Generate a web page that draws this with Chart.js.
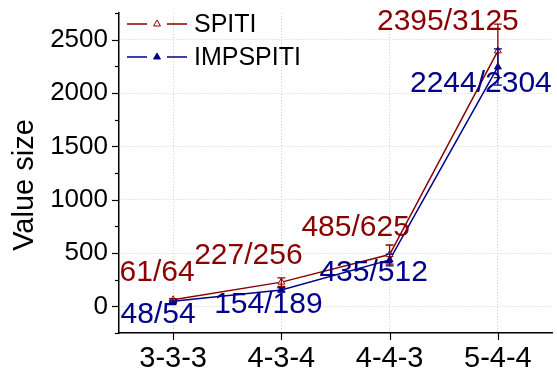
<!DOCTYPE html>
<html>
<head>
<meta charset="utf-8">
<script src="https://cdn.jsdelivr.net/npm/chart.js@4.4.0/dist/chart.umd.min.js"></script>
<style>
  html, body { margin: 0; padding: 0; background: #fff; }
</style>
</head>
<body>
<canvas id="chart" width="557" height="376"></canvas>
<script>
// ---- data ----
const categories = ['3-3-3', '4-3-4', '4-4-3', '5-4-4'];

const spitiValues = [61, 227, 485, 2395];
const spitiErrors = [12, 40, 90, 250];
const spitiLabels = ['61/64', '227/256', '485/625', '2395/3125'];

const impValues = [48, 154, 435, 2244];
const impErrors = [10, 20, 55, 170];
const impLabels = ['48/54', '154/189', '435/512', '2244/2304'];

// label placement relative to each point (px)
const spitiLabelOffsets = [[-16, -27], [-33, -26], [-34, -27], [-50, -29]];
const impLabelOffsets = [[-15, 14], [-13, 15], [-16, 13], [-17, 17]];

const RED = '#8b0000';
const BLUE = '#00008b';
const FONT = "'Liberation Sans', Arial, sans-serif";

Chart.defaults.font.family = FONT;
Chart.defaults.color = '#000';

// tick marks (major + minor) and the y title
const axisExtras = {
    id: 'axisExtras',
    afterDraw(chart) {
        const ctx = chart.ctx;
        const area = chart.chartArea;
        const y = chart.scales.y;
        const x = chart.scales.x;
        ctx.save();
        ctx.strokeStyle = '#000';
        ctx.lineWidth = 1.2;
        y.ticks.forEach(t => {
            const py = Math.round(y.getPixelForValue(t.value)) + 0.5;
            const len = t.value % 500 === 0 ? 7 : 4;
            ctx.beginPath();
            ctx.moveTo(area.left - len, py);
            ctx.lineTo(area.left, py);
            ctx.stroke();
        });
        x.ticks.forEach((t, i) => {
            const px = Math.round(x.getPixelForTick(i)) + 0.5;
            ctx.beginPath();
            ctx.moveTo(px, area.bottom);
            ctx.lineTo(px, area.bottom + 7);
            ctx.stroke();
        });
        // rotated axis title
        ctx.translate(25, 185);
        ctx.rotate(-Math.PI / 2);
        ctx.font = '29px ' + FONT;
        ctx.fillStyle = '#000';
        ctx.textAlign = 'center';
        ctx.textBaseline = 'middle';
        ctx.fillText('Value size', 0, 0);
        ctx.restore();
    }
};

// vertical error bars with caps
const errorBars = {
    id: 'errorBars',
    afterDatasetsDraw(chart) {
        const ctx = chart.ctx;
        const x = chart.scales.x;
        const y = chart.scales.y;
        const sets = [[spitiValues, spitiErrors, RED], [impValues, impErrors, BLUE]];
        ctx.save();
        ctx.lineWidth = 1.3;
        sets.forEach(([vals, errs, col]) => {
            ctx.strokeStyle = col;
            vals.forEach((v, i) => {
                const px = x.getPixelForValue(i);
                const top = y.getPixelForValue(v + errs[i]);
                const bot = y.getPixelForValue(v - errs[i]);
                ctx.beginPath();
                ctx.moveTo(px, top); ctx.lineTo(px, bot);
                ctx.moveTo(px - 4, top); ctx.lineTo(px + 4, top);
                ctx.moveTo(px - 4, bot); ctx.lineTo(px + 4, bot);
                ctx.stroke();
            });
        });
        ctx.restore();
    }
};

// "a/b" value labels next to each point
const valueLabels = {
    id: 'valueLabels',
    afterDatasetsDraw(chart) {
        const ctx = chart.ctx;
        const x = chart.scales.x;
        const y = chart.scales.y;
        const sets = [[spitiValues, spitiLabels, spitiLabelOffsets, RED], [impValues, impLabels, impLabelOffsets, BLUE]];
        ctx.save();
        ctx.font = '30px ' + FONT;
        ctx.textAlign = 'center';
        ctx.textBaseline = 'middle';
        sets.forEach(([vals, labels, offs, col]) => {
            ctx.fillStyle = col;
            vals.forEach((v, i) => {
                const px = x.getPixelForValue(i) + offs[i][0];
                const py = y.getPixelForValue(v) + offs[i][1];
                ctx.fillText(labels[i], px, py);
            });
        });
        ctx.restore();
    }
};

// legend inside the plot: line - marker - line  text
const innerLegend = {
    id: 'innerLegend',
    afterDraw(chart) {
        const ctx = chart.ctx;
        const area = chart.chartArea;
        ctx.save();
        ctx.font = '25px ' + FONT;
        ctx.textBaseline = 'middle';
        chart.data.datasets.forEach((ds, i) => {
            const yy = area.top + 11 + i * 33;
            const x0 = area.left + 8;
            ctx.strokeStyle = ds.borderColor;
            ctx.lineWidth = 1.5;
            ctx.beginPath();
            ctx.moveTo(x0, yy); ctx.lineTo(x0 + 20, yy);
            ctx.moveTo(x0 + 40, yy); ctx.lineTo(x0 + 60, yy);
            ctx.stroke();
            ctx.fillStyle = ds.pointBackgroundColor;
            ctx.lineWidth = 1;
            Chart.helpers.drawPoint(ctx, { pointStyle: 'triangle', radius: 4, borderWidth: 1, rotation: 0 }, x0 + 30, yy);
            ctx.fillStyle = '#000';
            ctx.fillText(ds.label, x0 + 67, yy + 1);
        });
        ctx.restore();
    }
};

new Chart(document.getElementById('chart'), {
    type: 'line',
    data: {
        labels: categories,
        datasets: [{
            label: 'SPITI',
            data: spitiValues,
            borderColor: RED,
            borderWidth: 1.5,
            pointStyle: 'triangle',
            pointRadius: 4,
            pointBorderWidth: 1,
            pointBorderColor: RED,
            pointBackgroundColor: '#fff',
            tension: 0,
        }, {
            label: 'IMPSPITI',
            data: impValues,
            borderColor: BLUE,
            borderWidth: 1.5,
            pointStyle: 'triangle',
            pointRadius: 4,
            pointBorderWidth: 1,
            pointBorderColor: BLUE,
            pointBackgroundColor: BLUE,
            tension: 0,
        }],
    },
    options: {
        responsive: false,
        animation: false,
        devicePixelRatio: 1,
        layout: { padding: { top: 13, right: 2, left: 0, bottom: 0 } },
        plugins: {
            legend: { display: false },
            tooltip: { enabled: false },
        },
        scales: {
            x: {
                offset: true,
                grid: {
                    offset: false,
                    color: '#d0d0d0',
                    lineWidth: 1,
                    tickColor: 'rgba(0,0,0,0)',
                    tickLength: 7,
                },
                border: { display: true, color: '#000', width: 1.5, dash: [1, 2] },
                ticks: { font: { size: 29 }, color: '#000', padding: 2 },
                afterFit: function(scale) {
                    scale.height = 43;
                    scale.paddingLeft = 0;
                    scale.paddingRight = 0;
                },
            },
            y: {
                min: -250,
                max: 2750,
                grid: {
                    color: function(ctx) {
                        return ctx.tick && ctx.tick.value % 500 === 0 ? '#d0d0d0' : 'rgba(0,0,0,0)';
                    },
                    lineWidth: 1,
                    tickColor: 'rgba(0,0,0,0)',
                    tickLength: 7,
                },
                border: { display: true, color: '#000', width: 1.5, dash: [1, 2] },
                ticks: {
                    stepSize: 250,
                    autoSkip: false,
                    font: { size: 26 },
                    color: '#000',
                    padding: 4,
                    callback: function(value) {
                        return value % 500 === 0 ? String(value) : '';
                    },
                },
                afterFit: function(scale) {
                    scale.width = 119;
                    scale.paddingTop = 0;
                    scale.paddingBottom = 0;
                },
            },
        },
    },
    plugins: [axisExtras, errorBars, valueLabels, innerLegend],
});
</script>
</body>
</html>
